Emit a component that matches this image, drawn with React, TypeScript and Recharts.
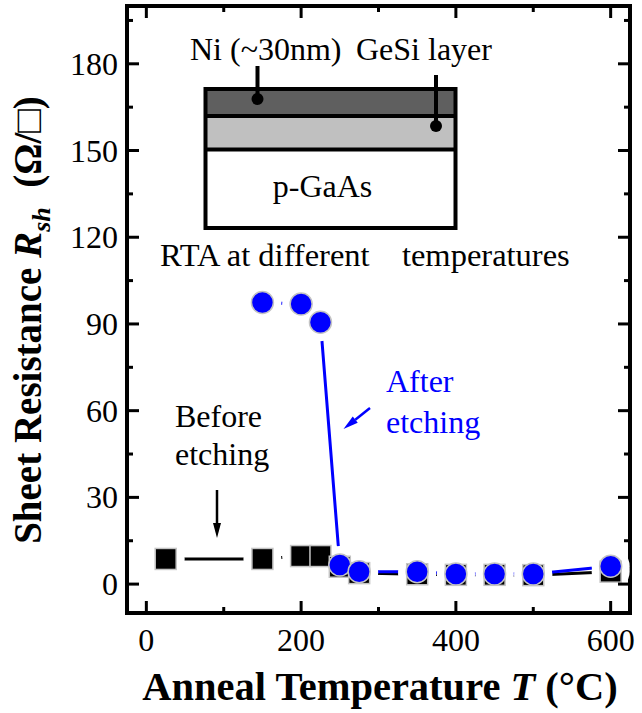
import React from 'react';
import { ComposedChart, Line, XAxis, YAxis, Customized } from 'recharts';

// sheet resistance vs RTA temperature, before / after selective etching
const TEMP_BEFORE = [25, 150, 200, 225, 250, 275, 350, 400, 450, 500, 600];
const RSH_BEFORE = [8.7, 8.7, 9.7, 9.7, 6.0, 3.8, 3.4, 3.2, 3.2, 3.1, 4.3];
const TEMP_AFTER = [150, 200, 225, 250, 275, 350, 400, 450, 500, 600];
const RSH_AFTER = [97.4, 96.9, 90.6, 6.6, 4.3, 4.3, 3.5, 3.5, 3.5, 6.2];

const X_TICKS = [0, 100, 200, 300, 400, 500, 600];
const X_MAJOR = [0, 200, 400, 600];
const Y_TICKS = [0, 15, 30, 45, 60, 75, 90, 105, 120, 135, 150, 165, 180, 195];
const Y_MAJOR = [0, 30, 60, 90, 120, 150, 180];
const X_DOMAIN: [number, number] = [-25, 625];
const Y_DOMAIN: [number, number] = [-10, 200];

const before = TEMP_BEFORE.map((T, i) => ({ T, R: RSH_BEFORE[i] }));
const after = TEMP_AFTER.map((T, i) => ({ T, R: RSH_AFTER[i] }));

const SERIF = '"Liberation Serif", "Times New Roman", serif';
const BLUE = '#0000ff';
const MAJOR_LEN = 12;
const MINOR_LEN = 6;

// plot box, px (margins + axis sizes below)
const BOX = { left: 127, top: 6, right: 630, bottom: 613 };

function BottomTick({ x, y, payload }: any) {
  const major = X_MAJOR.includes(payload.value);
  return (
    <g>
      <line x1={x} x2={x} y1={y} y2={y - (major ? MAJOR_LEN : MINOR_LEN)} stroke="#000" strokeWidth={3} />
      {major && (
        <text x={x} y={y + 38} textAnchor="middle" fontFamily={SERIF} fontSize={32} fill="#000">
          {payload.value}
        </text>
      )}
    </g>
  );
}

function TopTick({ x, y, payload }: any) {
  const major = X_MAJOR.includes(payload.value);
  return <line x1={x} x2={x} y1={y} y2={y + (major ? MAJOR_LEN : MINOR_LEN)} stroke="#000" strokeWidth={3} />;
}

function LeftTick({ x, y, payload }: any) {
  const major = Y_MAJOR.includes(payload.value);
  return (
    <g>
      <line x1={x} x2={x + (major ? MAJOR_LEN : MINOR_LEN)} y1={y} y2={y} stroke="#000" strokeWidth={3} />
      {major && (
        <text x={x - 9} y={y + 11} textAnchor="end" fontFamily={SERIF} fontSize={32} fill="#000">
          {payload.value}
        </text>
      )}
    </g>
  );
}

function RightTick({ x, y, payload }: any) {
  const major = Y_MAJOR.includes(payload.value);
  return <line x1={x} x2={x - (major ? MAJOR_LEN : MINOR_LEN)} y1={y} y2={y} stroke="#000" strokeWidth={3} />;
}

// white disc under each marker so the connecting lines stop short of the symbols
function Halo({ cx, cy, index }: any) {
  return <circle key={`h${index}`} cx={cx} cy={cy} r={19} fill="#fff" />;
}

function SquareDot({ cx, cy, index }: any) {
  return (
    <rect key={`s${index}`} x={cx - 10.5} y={cy - 10.5} width={21} height={21} fill="#000" stroke="#c4c4c4" strokeWidth={1.5} />
  );
}

function CircleDot({ cx, cy, index }: any) {
  return <circle key={`c${index}`} cx={cx} cy={cy} r={11} fill={BLUE} stroke="#c4c4c4" strokeWidth={1.5} />;
}

function Arrow({ x1, y1, x2, y2, color }: { x1: number; y1: number; x2: number; y2: number; color: string }) {
  const len = Math.hypot(x2 - x1, y2 - y1);
  const ux = (x2 - x1) / len;
  const uy = (y2 - y1) / len;
  const head = 15;
  const half = 4;
  const bx = x2 - ux * head;
  const by = y2 - uy * head;
  return (
    <g>
      <line x1={x1} y1={y1} x2={bx} y2={by} stroke={color} strokeWidth={2.5} />
      <polygon
        points={`${x2},${y2} ${bx - uy * half},${by + ux * half} ${bx + uy * half},${by - ux * half}`}
        fill={color}
      />
    </g>
  );
}

function Annotations() {
  return (
    <g fontFamily={SERIF} fontSize={32}>
      <rect
        x={BOX.left}
        y={BOX.top}
        width={BOX.right - BOX.left}
        height={BOX.bottom - BOX.top}
        fill="none"
        stroke="#000"
        strokeWidth={4}
      />

      {/* layer stack sketch */}
      <rect x={205.5} y={89} width={250} height={27} fill="#5f5f5f" />
      <rect x={205.5} y={116} width={250} height={33.5} fill="#c0c0c0" />
      <rect x={205.5} y={149.5} width={250} height={78.5} fill="#fff" />
      <rect x={205.5} y={89} width={250} height={139} fill="none" stroke="#000" strokeWidth={4} />
      <line x1={205.5} x2={455.5} y1={116} y2={116} stroke="#000" strokeWidth={4} />
      <line x1={205.5} x2={455.5} y1={149.5} y2={149.5} stroke="#000" strokeWidth={4} />
      <line x1={257.5} x2={257.5} y1={66} y2={99} stroke="#000" strokeWidth={4} />
      <circle cx={257.5} cy={99} r={6} fill="#000" />
      <line x1={436} x2={436} y1={75} y2={126} stroke="#000" strokeWidth={4} />
      <circle cx={436} cy={126} r={6} fill="#000" />
      <text x={190} y={60}>Ni (~30nm)</text>
      <text x={356} y={60}>GeSi layer</text>
      <text x={322.5} y={197} textAnchor="middle">p-GaAs</text>
      <text x={160} y={266} fontSize={32.5} style={{ whiteSpace: 'pre' }}>
        RTA at different  <tspan dx={16}>temperatures</tspan>
      </text>

      <text x={175} y={427}>Before</text>
      <text x={175} y={465}>etching</text>
      <Arrow x1={217} y1={490} x2={217} y2={538} color="#000" />

      <text x={386} y={392} fill={BLUE}>After</text>
      <text x={386} y={433} fill={BLUE}>etching</text>
      <Arrow x1={370} y1={408} x2={343.5} y2={429} color={BLUE} />

      {/* axis titles */}
      <text x={380} y={700} textAnchor="middle" fontWeight="bold" fontSize={40.5}>
        Anneal Temperature <tspan fontStyle="italic">T</tspan> (°C)
      </text>
      <text transform="translate(41,320) rotate(-90)" textAnchor="middle" fontWeight="bold" fontSize={39} style={{ whiteSpace: 'pre' }}>
        Sheet Resistance <tspan fontStyle="italic">R</tspan>
        <tspan fontStyle="italic" fontSize={26} dy={9}>sh</tspan>
        <tspan dy={-9}>{'  (Ω/□)'}</tspan>
      </text>
    </g>
  );
}

export default function App() {
  return (
    <div style={{ position: 'absolute', left: 0, top: 0, width: 642, height: 713, background: '#fff' }}>
      <ComposedChart
        width={642}
        height={713}
        margin={{ top: BOX.top - 1, right: 642 - BOX.right - 1, bottom: 0, left: 0 }}
      >
        <XAxis
          xAxisId={0}
          type="number"
          dataKey="T"
          domain={X_DOMAIN}
          allowDataOverflow
          ticks={X_TICKS}
          interval={0}
          height={713 - BOX.bottom}
          tickSize={0}
          tickMargin={0}
          tickLine={false}
          axisLine={false}
          tick={<BottomTick />}
        />
        <XAxis
          xAxisId="top"
          orientation="top"
          type="number"
          dataKey="T"
          domain={X_DOMAIN}
          allowDataOverflow
          ticks={X_TICKS}
          interval={0}
          height={1}
          tickSize={0}
          tickMargin={0}
          tickLine={false}
          axisLine={false}
          tick={<TopTick />}
        />
        <YAxis
          yAxisId={0}
          type="number"
          domain={Y_DOMAIN}
          allowDataOverflow
          ticks={Y_TICKS}
          interval={0}
          width={BOX.left}
          tickSize={0}
          tickMargin={0}
          tickLine={false}
          axisLine={false}
          tick={<LeftTick />}
        />
        <YAxis
          yAxisId="right"
          orientation="right"
          type="number"
          domain={Y_DOMAIN}
          allowDataOverflow
          ticks={Y_TICKS}
          interval={0}
          width={1}
          tickSize={0}
          tickMargin={0}
          tickLine={false}
          axisLine={false}
          tick={<RightTick />}
        />

        {/* keeps the mirrored top/right axes bound to a series */}
        <Line xAxisId="top" yAxisId="right" data={before} dataKey="R" stroke="none" dot={false} activeDot={false} isAnimationActive={false} />

        <Line data={before} dataKey="R" stroke="#000" strokeWidth={3} dot={false} activeDot={false} isAnimationActive={false} />
        <Line data={after} dataKey="R" stroke={BLUE} strokeWidth={3} dot={false} activeDot={false} isAnimationActive={false} />
        <Line data={before} dataKey="R" stroke="none" dot={Halo} activeDot={false} isAnimationActive={false} />
        <Line data={after} dataKey="R" stroke="none" dot={Halo} activeDot={false} isAnimationActive={false} />
        <Line data={before} dataKey="R" stroke="none" dot={SquareDot} activeDot={false} isAnimationActive={false} />
        <Line data={after} dataKey="R" stroke="none" dot={CircleDot} activeDot={false} isAnimationActive={false} />

        <Customized component={<Annotations />} />
      </ComposedChart>
    </div>
  );
}
